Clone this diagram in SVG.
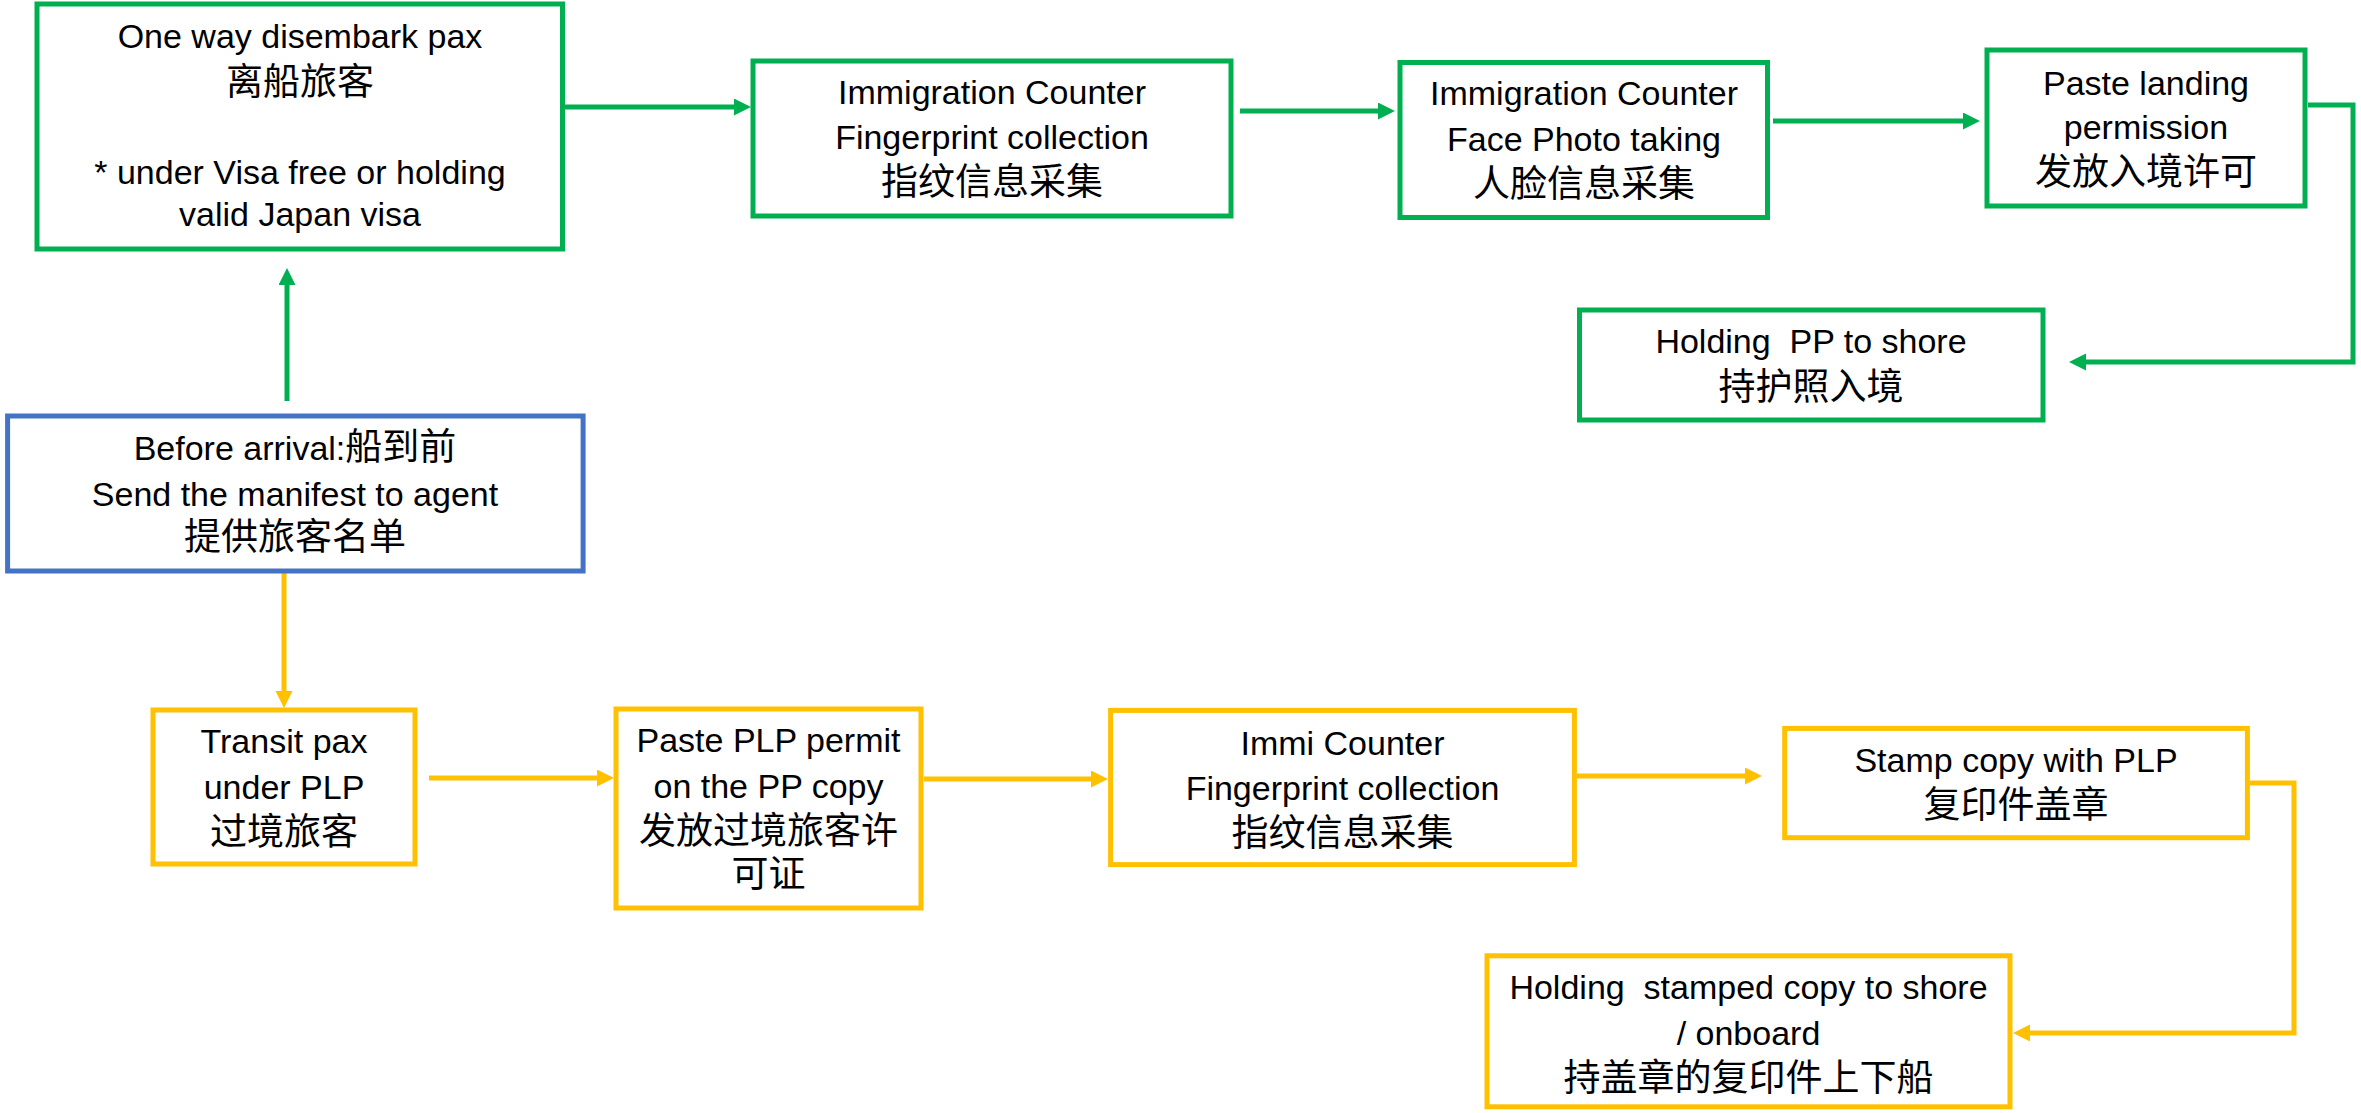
<svg xmlns="http://www.w3.org/2000/svg" width="2361" height="1113" viewBox="0 0 2361 1113">
<style>
.box{fill:#ffffff;stroke-width:5}
.g{stroke:#00B050}
.b{stroke:#4472C4}
.y{stroke:#FFC000}
text{font-family:"Liberation Sans","Noto Sans CJK SC",sans-serif;font-size:34px;fill:#000000;text-anchor:middle}
.cjk{font-family:"Liberation Sans","Noto Sans CJK SC",sans-serif;font-size:37px}
.conn{fill:none;stroke-width:5;stroke-linejoin:miter}
.cg{stroke:#00B050}
.cy{stroke:#FFC000}
</style>
<defs>
<marker id="ag" markerUnits="userSpaceOnUse" markerWidth="18" markerHeight="18" refX="1" refY="8.5" orient="auto"><path d="M0,0 L17,8.5 L0,17 z" fill="#00B050"/></marker>
<marker id="ay" markerUnits="userSpaceOnUse" markerWidth="18" markerHeight="18" refX="1" refY="8.5" orient="auto"><path d="M0,0 L17,8.5 L0,17 z" fill="#FFC000"/></marker>
</defs>
<rect width="2361" height="1113" fill="#ffffff"/>
<g id="connectors">
<path class="conn cg" d="M565,107 L735,107" marker-end="url(#ag)"/>
<path class="conn cg" d="M1240,111 L1379,111" marker-end="url(#ag)"/>
<path class="conn cg" d="M1773,121 L1964,121" marker-end="url(#ag)"/>
<path class="conn cg" d="M2308,105 L2353,105 L2353,362 L2085,362" marker-end="url(#ag)"/>
<path class="conn cg" d="M287,401 L287,284" marker-end="url(#ag)"/>
<path class="conn cy" d="M284,573 L284,692" marker-end="url(#ay)"/>
<path class="conn cy" d="M429,778 L598,778" marker-end="url(#ay)"/>
<path class="conn cy" d="M924,779 L1092,779" marker-end="url(#ay)"/>
<path class="conn cy" d="M1577,776 L1746,776" marker-end="url(#ay)"/>
<path class="conn cy" d="M2250,783 L2294,783 L2294,1033 L2029,1033" marker-end="url(#ay)"/>
</g>
<g id="one-way">
<rect class="box g" x="37" y="4" width="525.5" height="245"/>
<text x="300" y="48">One way disembark pax</text>
<text class="cjk" x="300" y="95">离船旅客</text>
<text x="300" y="184">* under Visa free or holding</text>
<text x="300" y="226">valid Japan visa</text>
</g>
<g id="imm-fingerprint">
<rect class="box g" x="753" y="61" width="478" height="155"/>
<text x="992" y="104">Immigration Counter</text>
<text x="992" y="149">Fingerprint collection</text>
<text class="cjk" x="992" y="195">指纹信息采集</text>
</g>
<g id="imm-face">
<rect class="box g" x="1400" y="62.5" width="367.5" height="155"/>
<text x="1584" y="105">Immigration Counter</text>
<text x="1584" y="151">Face Photo taking</text>
<text class="cjk" x="1584" y="197">人脸信息采集</text>
</g>
<g id="paste-landing">
<rect class="box g" x="1987" y="50" width="318" height="156"/>
<text x="2146" y="95">Paste landing</text>
<text x="2146" y="139">permission</text>
<text class="cjk" x="2146" y="185">发放入境许可</text>
</g>
<g id="holding-pp">
<rect class="box g" x="1579.5" y="310" width="463.5" height="110"/>
<text x="1811" y="353" xml:space="preserve">Holding  PP to shore</text>
<text class="cjk" x="1811" y="400">持护照入境</text>
</g>
<g id="before-arrival">
<rect class="box b" x="7.6" y="416" width="575.5" height="155"/>
<text x="295" y="460">Before arrival:<tspan class="cjk">船到前</tspan></text>
<text x="295" y="506">Send the manifest to agent</text>
<text class="cjk" x="295" y="550">提供旅客名单</text>
</g>
<g id="transit">
<rect class="box y" x="153" y="710" width="262" height="154"/>
<text x="284" y="753">Transit pax</text>
<text x="284" y="799">under PLP</text>
<text class="cjk" x="284" y="844.5">过境旅客</text>
</g>
<g id="paste-plp">
<rect class="box y" x="616" y="709" width="305" height="199"/>
<text x="768.5" y="752">Paste PLP permit</text>
<text x="768.5" y="798">on the PP copy</text>
<text class="cjk" x="768.5" y="844">发放过境旅客许</text>
<text class="cjk" x="768.5" y="887">可证</text>
</g>
<g id="immi-counter">
<rect class="box y" x="1110.6" y="710.4" width="463.8" height="154.2"/>
<text x="1342.5" y="755">Immi Counter</text>
<text x="1342.5" y="800">Fingerprint collection</text>
<text class="cjk" x="1342.5" y="846">指纹信息采集</text>
</g>
<g id="stamp-copy">
<rect class="box y" x="1784.7" y="728.4" width="462.7" height="109.3"/>
<text x="2016" y="771.6">Stamp copy with PLP</text>
<text class="cjk" x="2016" y="818">复印件盖章</text>
</g>
<g id="holding-stamped">
<rect class="box y" x="1487" y="955.8" width="523" height="151"/>
<text x="1748.5" y="999" xml:space="preserve">Holding  stamped copy to shore</text>
<text x="1748.5" y="1045">/ onboard</text>
<text class="cjk" x="1748.5" y="1091">持盖章的复印件上下船</text>
</g>
</svg>
